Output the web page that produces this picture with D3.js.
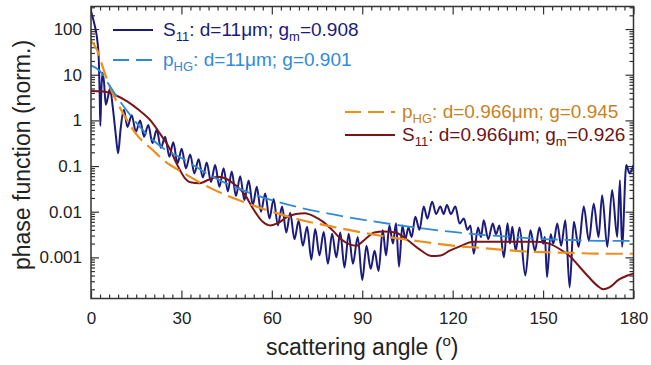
<!DOCTYPE html>
<html>
<head>
<meta charset="utf-8">
<script src="https://cdn.jsdelivr.net/npm/d3@7/dist/d3.min.js"></script>
<style>
  body { margin: 0; background: #fff; }
  svg { display: block; }
  text { font-family: "Liberation Sans", Arial, sans-serif; }
</style>
</head>
<body>
<svg id="chart" width="651" height="365"></svg>
<script>
// ---- data ----
// S11, d = 11 um (navy, oscillating)
const s11BigAngle = [0, 0.8, 1.5, 2.1, 2.6, 2.9, 3.1, 3.4, 3.8, 4.3, 4.9, 5.6, 6.3, 7.2, 8.2, 9.0, 9.8, 10.9, 12.1,
  13.5, 14.9, 16.3, 17.6, 19.0, 20.4, 21.8, 23.2, 24.6, 26.0, 27.3, 28.7, 30.1, 31.5, 32.9, 34.3, 35.7, 37.1,
  38.4, 39.8, 41.2, 42.6, 44.0, 45.4, 46.7, 48.1, 49.5, 50.9, 52.3, 53.7, 55.0, 56.4, 57.8, 59.2, 60.6, 62.0,
  63.4, 64.8, 66.1, 67.5, 68.9, 70.3, 71.7, 73.1, 74.4, 75.8, 77.2, 78.6, 80.0, 81.4, 82.7, 84.1, 85.5, 86.9,
  88.5, 90.0, 91.4, 92.8, 94.1, 95.4, 96.8, 97.9, 99.0, 100.2, 101.2, 102.2, 103.3, 104.3, 105.3, 106.4, 107.6,
  109.0, 110.4, 111.6, 113.2, 114.5, 115.9, 117.0, 118.1, 119.4, 120.9, 122.3, 123.7, 124.9, 125.9, 127.0,
  128.4, 129.4, 130.3, 131.8, 133.3, 134.4, 135.5, 137.0, 138.2, 139.0, 139.8, 140.9, 142.2, 144.1, 145.8,
  147.3, 148.8, 150.0, 150.6, 151.3, 152.5, 153.4, 154.7, 156.0, 157.4, 158.8, 160.2, 161.8, 163.5, 165.2,
  166.8, 168.4, 169.6, 171.3, 172.9, 174.6, 175.5, 176.2, 177.6, 178.7, 180];
const s11BigValue = [245, 158, 100, 56, 20, 3.2, 0.76, 4.0, 11, 7.1, 2.2, 3.2, 5.0, 2.0, 0.5, 0.19, 0.63, 1.7, 0.72,
  1.3, 0.56, 1.0, 0.44, 0.79, 0.32, 0.62, 0.25, 0.44, 0.16, 0.33, 0.115, 0.24, 0.089, 0.18, 0.069, 0.14, 0.056,
  0.12, 0.045, 0.105, 0.035, 0.089, 0.028, 0.076, 0.022, 0.06, 0.018, 0.048, 0.014, 0.035, 0.010, 0.025, 0.0071, 0.019, 0.005,
  0.013, 0.0035, 0.0095, 0.0025, 0.0063, 0.0018, 0.0047, 0.00089, 0.0042, 0.0011, 0.0036, 0.00072, 0.0033, 0.001, 0.0035, 0.0006, 0.0033, 0.00072,
  0.0028, 0.00032, 0.0018, 0.00056, 0.0014, 0.0005, 0.0039, 0.0011, 0.005, 0.002, 0.0056, 0.00062, 0.005, 0.0025, 0.0045, 0.0028, 0.0078,
  0.004, 0.013, 0.0071, 0.0166, 0.0089, 0.013, 0.0089, 0.014, 0.0089, 0.013, 0.0055, 0.0071, 0.004, 0.005, 0.0012,
  0.0045, 0.0028, 0.0065, 0.0025, 0.0055, 0.0032, 0.005, 0.001, 0.0056, 0.002, 0.0047, 0.0014, 0.0045, 0.0004, 0.0039,
  0.0014, 0.0045, 0.002, 0.0028, 0.00037, 0.0032, 0.002, 0.0055, 0.0018, 0.0065, 0.00022, 0.006, 0.0017, 0.013, 0.0023,
  0.015, 0.0028, 0.023, 0.0017, 0.03, 0.0028, 0.049, 0.0017, 0.105, 0.069, 0.105];

// p_HG, d = 11 um, g = 0.901 (light blue dashed)
const hgBigAngle = [0, 3, 6, 9, 12, 16, 20, 25, 30, 40, 50, 60, 70, 80, 90, 100, 110, 120, 130, 140, 150, 160, 170, 180];
const hgBigValue = [16, 12, 6, 3, 1.6, 0.75, 0.4, 0.22, 0.15, 0.06, 0.03, 0.018, 0.012, 0.0088, 0.0067, 0.0053,
  0.0043, 0.0036, 0.0031, 0.0028, 0.0025, 0.0024, 0.0023, 0.0023];

// p_HG, d = 0.966 um, g = 0.945 (orange dashed)
const hgSmallAngle = [0, 2, 4, 6, 8, 10, 12, 15, 20, 25, 30, 40, 50, 60, 70, 80, 90, 100, 110, 120, 130, 140, 150, 160, 170, 180];
const hgSmallValue = [55, 35, 14, 6, 3, 1.7, 1.0, 0.5, 0.24, 0.12, 0.075, 0.032, 0.017, 0.01, 0.0065, 0.0047, 0.0035,
  0.0027, 0.0022, 0.0018, 0.0016, 0.0014, 0.0013, 0.00125, 0.0012, 0.0012];

// S11, d = 0.966 um (dark red)
const s11SmallAngle = [0, 4, 8, 12, 16, 20, 23, 26, 28.5, 31, 33, 36, 39, 42, 45, 48, 51, 54, 57, 59.5, 62, 65, 68,
  71, 74, 77, 80, 83, 86, 88, 91, 94, 97, 101, 105, 109, 113, 116, 119, 122, 127, 135, 142, 148, 152, 156, 159,
  162, 165, 168, 170, 172, 175, 178, 180];
const s11SmallValue = [4.4, 4.3, 3.6, 2.6, 1.66, 0.95, 0.5, 0.25, 0.11, 0.056, 0.044, 0.042, 0.05, 0.058, 0.052,
  0.038, 0.024, 0.011, 0.006, 0.005, 0.0056, 0.0076, 0.0089, 0.0093, 0.0079, 0.006, 0.004, 0.0025, 0.0019, 0.0018,
  0.0025, 0.0035, 0.0037, 0.0035, 0.0024, 0.0015, 0.00107, 0.0011, 0.0014, 0.0017, 0.0022, 0.0022, 0.0022, 0.0022,
  0.002, 0.00145, 0.00105, 0.00063, 0.00038, 0.00024, 0.0002, 0.00022, 0.00032, 0.0004, 0.00044];

const xTicks = [0, 30, 60, 90, 120, 150, 180];
const yTicks = [0.001, 0.01, 0.1, 1, 10, 100];
const yTickLabels = ["0.001", "0.01", "0.1", "1", "10", "100"];

// ---- layout ----
const svg = d3.select("#chart");
const x = d3.scaleLinear().domain([0, 180]).range([91, 633.5]);
const y = d3.scaleLog().domain([1.256e-4, 312]).range([298.5, 6.5]);

const axisColor = "#333";
const tickFont = 17;

// minor tick positions
const xMinor = d3.range(0, 181, 3).filter(d => d % 30 !== 0);
const yMinor = [];
[1e-4, 1e-3, 1e-2, 1e-1, 1, 10, 100].forEach(dec => {
  for (let k = 2; k <= 9; k++) {
    const v = dec * k;
    if (v > y.domain()[0] && v < y.domain()[1]) yMinor.push(v);
  }
});

function styleAxis(g) {
  g.select(".domain").remove();
  g.selectAll(".tick line").attr("stroke", axisColor).attr("stroke-width", 1.2);
  g.selectAll(".tick text").attr("font-size", tickFont).attr("fill", "#222")
    .attr("font-family", "'Liberation Sans', Arial, sans-serif");
}

// bottom
svg.append("g").attr("transform", `translate(0,${y.range()[0]})`)
  .call(d3.axisBottom(x).tickValues(xTicks).tickSize(-8).tickPadding(13).tickSizeOuter(0))
  .call(styleAxis);
svg.append("g").attr("transform", `translate(0,${y.range()[0]})`)
  .call(d3.axisBottom(x).tickValues(xMinor).tickSize(-4).tickFormat("").tickSizeOuter(0))
  .call(styleAxis);
// top
svg.append("g").attr("transform", `translate(0,${y.range()[1]})`)
  .call(d3.axisTop(x).tickValues(xTicks).tickSize(-8).tickFormat("").tickSizeOuter(0))
  .call(styleAxis);
svg.append("g").attr("transform", `translate(0,${y.range()[1]})`)
  .call(d3.axisTop(x).tickValues(xMinor).tickSize(-4).tickFormat("").tickSizeOuter(0))
  .call(styleAxis);
// left
svg.append("g").attr("transform", `translate(${x.range()[0]},0)`)
  .call(d3.axisLeft(y).tickValues(yTicks).tickFormat((d, i) => yTickLabels[i]).tickSize(-8).tickPadding(9).tickSizeOuter(0))
  .call(styleAxis);
svg.append("g").attr("transform", `translate(${x.range()[0]},0)`)
  .call(d3.axisLeft(y).tickValues(yMinor).tickFormat("").tickSize(-4).tickSizeOuter(0))
  .call(styleAxis);
// right
svg.append("g").attr("transform", `translate(${x.range()[1]},0)`)
  .call(d3.axisRight(y).tickValues(yTicks).tickFormat("").tickSize(-8).tickSizeOuter(0))
  .call(styleAxis);
svg.append("g").attr("transform", `translate(${x.range()[1]},0)`)
  .call(d3.axisRight(y).tickValues(yMinor).tickFormat("").tickSize(-4).tickSizeOuter(0))
  .call(styleAxis);

// clip for curves
svg.append("clipPath").attr("id", "plot")
  .append("rect")
  .attr("x", x.range()[0]).attr("y", y.range()[1])
  .attr("width", x.range()[1] - x.range()[0]).attr("height", y.range()[0] - y.range()[1]);

const line = d3.line().x(d => x(d[0])).y(d => y(d[1])).curve(d3.curveMonotoneX);
const zip = (a, b) => a.map((v, i) => [v, b[i]]);

const navy = "#1b1b7c", lightBlue = "#2f8bd9", orange = "#ee8e1d", darkRed = "#7a1517";

const curves = svg.append("g").attr("clip-path", "url(#plot)");
curves.append("path").datum(zip(s11BigAngle, s11BigValue))
  .attr("d", line).attr("fill", "none").attr("stroke", navy).attr("stroke-width", 2);
curves.append("path").datum(zip(s11SmallAngle, s11SmallValue))
  .attr("d", line).attr("fill", "none").attr("stroke", darkRed).attr("stroke-width", 2);
curves.append("path").datum(zip(hgSmallAngle, hgSmallValue))
  .attr("d", line).attr("fill", "none").attr("stroke", orange).attr("stroke-width", 2.2)
  .attr("stroke-dasharray", "17,7");
curves.append("path").datum(zip(hgBigAngle, hgBigValue))
  .attr("d", line).attr("fill", "none").attr("stroke", lightBlue).attr("stroke-width", 1.8)
  .attr("stroke-dasharray", "17,7");

// frame
svg.append("rect")
  .attr("x", x.range()[0]).attr("y", y.range()[1])
  .attr("width", x.range()[1] - x.range()[0]).attr("height", y.range()[0] - y.range()[1])
  .attr("fill", "none").attr("stroke", axisColor).attr("stroke-width", 1.5);

// axis titles
svg.append("text")
  .attr("x", (x.range()[0] + x.range()[1]) / 2).attr("y", 355)
  .attr("text-anchor", "middle").attr("font-size", 23).attr("fill", "#222")
  .call(t => {
    t.append("tspan").text("scattering angle (");
    t.append("tspan").attr("font-size", 15).attr("dy", -9).text("o");
    t.append("tspan").attr("dy", 9).text(")");
  });
svg.append("text")
  .attr("transform", "translate(30,155) rotate(-90)")
  .attr("text-anchor", "middle").attr("font-size", 23).attr("fill", "#222")
  .text("phase function (norm.)");

// legend
function legendText(xPos, yPos, color, parts) {
  const t = svg.append("text").attr("x", xPos).attr("y", yPos)
    .attr("font-size", 19).attr("fill", color);
  let shift = 0;
  parts.forEach(p => {
    const target = p.sub ? 5 : 0;
    const ts = t.append("tspan").attr("dy", target - shift).text(p.s);
    if (p.sub) ts.attr("font-size", 13);
    shift = target;
  });
}
function legendSample(x1, x2, yPos, color, dashed) {
  const l = svg.append("line").attr("x1", x1).attr("x2", x2).attr("y1", yPos).attr("y2", yPos)
    .attr("stroke", color).attr("stroke-width", 2);
  if (dashed) l.attr("stroke-dasharray", "16,7");
}

legendSample(113, 153, 30, navy, false);
legendText(163, 36, navy, [{s: "S"}, {s: "11", sub: true}, {s: ": d=11μm; g"}, {s: "m", sub: true}, {s: "=0.908"}]);
legendSample(113, 153, 60, lightBlue, true);
legendText(163, 66, lightBlue, [{s: "p"}, {s: "HG", sub: true}, {s: ": d=11μm; g=0.901"}]);

legendSample(345, 395, 112, orange, true);
legendText(402, 118, "#c8821f", [{s: "p"}, {s: "HG", sub: true}, {s: ": d=0.966μm; g=0.945"}]);
legendSample(345, 395, 135, darkRed, false);
legendText(402, 141, "#6e1416", [{s: "S"}, {s: "11", sub: true}, {s: ": d=0.966μm; g"}, {s: "m", sub: true}, {s: "=0.926"}]);
</script>
</body>
</html>
